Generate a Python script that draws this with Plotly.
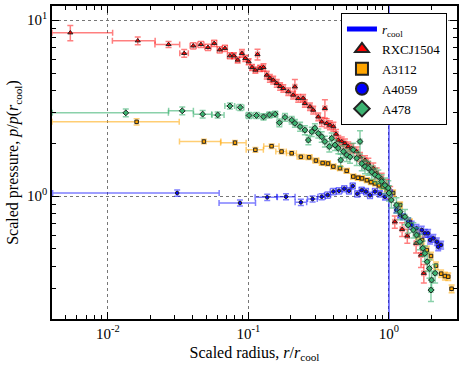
import plotly.graph_objects as go

# axis limits and cooling radius (scaled units)
x_min, x_max = 0.004, 3.05
y_min, y_max = 0.2, 12.0
r_cool = 1.0

# RXCJ1504
red_x = [0.0054, 0.0163, 0.027, 0.0349, 0.0405, 0.0459, 0.0515, 0.0571, 0.0624, 0.068,
         0.0738, 0.0788, 0.0838, 0.0899, 0.095, 0.1003, 0.106, 0.112, 0.116, 0.121,
         0.128, 0.135, 0.142, 0.150, 0.159, 0.168, 0.177, 0.192, 0.208, 0.214,
         0.226, 0.245, 0.252, 0.274, 0.289, 0.314, 0.332, 0.350, 0.360, 0.380,
         0.402, 0.420, 0.436, 0.461, 0.486, 0.513, 0.543, 0.589, 0.622, 0.675,
         0.713, 0.773, 0.817, 0.887, 0.963, 1.02, 1.10, 1.24, 1.35, 1.56,
         1.69, 1.77]
red_y = [8.47, 7.63, 7.27, 6.47, 7.14, 7.27, 7.00, 7.38, 6.78, 6.91,
         6.27, 6.27, 5.93, 6.47, 6.06, 5.80, 5.38, 5.20, 6.38, 5.32,
         5.38, 4.87, 4.67, 4.56, 4.37, 4.20, 4.09, 3.92, 3.75, 4.18,
         3.59, 3.60, 3.36, 3.22, 3.08, 2.82, 2.64, 3.15, 2.59, 2.53,
         2.48, 2.25, 2.08, 2.04, 1.99, 1.91, 1.87, 1.79, 1.67, 1.60,
         1.53, 1.44, 1.35, 1.26, 1.15, 1.05, 0.714, 0.647, 0.593, 0.539,
         0.462, 0.364]
red_xm = [26, 34, 20, 7, 5, 5, 5, 4, 4, 4,
          4, 3, 3, 3, 3, 3, 3, 3, 3, 3,
          3, 3, 3, 3, 3, 3, 3, 3, 3, 3,
          3, 3, 3, 3, 3, 3, 3, 3, 3, 3,
          3, 3, 3, 3, 3, 3, 3, 3, 3, 3,
          3, 3, 3, 3, 3, 3, 3, 3, 3, 3,
          3, 3]
red_xp = [100, 33, 20, 7, 5, 5, 5, 4, 4, 4,
          4, 3, 3, 3, 3, 3, 3, 3, 3, 3,
          3, 3, 3, 3, 3, 3, 3, 3, 3, 3,
          3, 3, 3, 3, 3, 3, 3, 3, 3, 3,
          3, 3, 3, 3, 3, 3, 3, 3, 3, 3,
          3, 3, 3, 3, 3, 3, 3, 3, 3, 3,
          3, 3]
red_ye = [10, 5, 4, 5, 4, 4, 4, 4, 4, 4,
          4, 4, 4, 5, 4, 4, 4, 4, 7, 4,
          5, 5, 5, 5, 5, 5, 5, 5, 5, 10,
          5, 5, 5, 5, 5, 5, 6, 12, 6, 6,
          6, 6, 6, 6, 6, 6, 6, 6, 6, 6,
          7, 7, 7, 7, 8, 8, 8, 9, 9, 12,
          15, 12]

# A3112
ora_x = [0.016, 0.0482, 0.0802, 0.112, 0.146, 0.172, 0.203, 0.236, 0.270, 0.302,
         0.337, 0.368, 0.402, 0.448, 0.500, 0.557, 0.601, 0.643, 0.697, 0.745,
         0.795, 0.849, 0.910, 0.968, 1.07, 1.20, 1.41, 1.61, 1.72, 1.86,
         1.99, 2.16, 2.35, 2.50, 2.64, 2.79]
ora_y = [2.64, 2.04, 2.01, 1.83, 1.92, 1.79, 1.75, 1.67, 1.66, 1.59,
         1.54, 1.53, 1.47, 1.44, 1.39, 1.29, 1.27, 1.26, 1.23, 1.20,
         1.18, 1.15, 1.13, 1.11, 1.04, 0.889, 0.712, 0.600, 0.562, 0.493,
         0.456, 0.402, 0.362, 0.351, 0.348, 0.297]
ora_xm = [75, 33, 21, 14, 12, 9, 8, 6, 5, 5,
          5, 4, 4, 4, 4, 4, 4, 4, 4, 4,
          3, 3, 3, 3, 3, 3, 3, 3, 3, 3,
          3, 3, 3, 3, 3, 3]
ora_xp = [101, 32, 20, 14, 13, 8, 8, 6, 5, 5,
          5, 4, 4, 4, 4, 4, 4, 4, 4, 4,
          3, 3, 3, 3, 3, 3, 3, 3, 3, 3,
          3, 3, 3, 3, 3, 3]
ora_ye = [4, 3, 3, 3, 3, 3, 3, 3, 3, 3,
          3, 3, 3, 3, 3, 3, 3, 3, 3, 3,
          3, 3, 3, 3, 4, 4, 4, 5, 5, 5,
          5, 5, 5, 5, 5, 5]

# A4059
blu_x = [0.0311, 0.087, 0.136, 0.185, 0.236, 0.286, 0.332, 0.366, 0.402, 0.441,
         0.481, 0.519, 0.552, 0.595, 0.639, 0.686, 0.733, 0.795, 0.863, 0.937,
         1.02, 1.13, 1.20, 1.26, 1.37, 1.45, 1.57, 1.71, 1.80, 1.90,
         1.96, 2.07, 2.19, 2.24, 2.35]
blu_y = [1.04, 0.913, 0.983, 0.991, 0.921, 0.962, 0.991, 1.013, 1.06, 1.07,
         1.10, 1.07, 1.14, 1.03, 1.08, 1.06, 1.01, 1.06, 1.03, 0.99,
         1.04, 0.833, 0.780, 0.763, 0.714, 0.684, 0.655, 0.641, 0.614, 0.614,
         0.562, 0.575, 0.550, 0.515, 0.527]
blu_xm = [87, 29, 18, 14, 9, 8, 6, 5, 5, 5,
          4, 4, 4, 4, 4, 4, 4, 4, 3, 3,
          3, 3, 3, 3, 3, 3, 3, 3, 3, 3,
          3, 3, 3, 3, 3]
blu_xp = [99, 29, 18, 16, 10, 8, 6, 5, 5, 5,
          4, 4, 4, 4, 4, 4, 4, 4, 3, 3,
          3, 3, 3, 3, 3, 3, 3, 3, 3, 3,
          3, 3, 3, 3, 3]
blu_ye = [4, 4, 4, 4, 4, 4, 4, 4, 4, 4,
          4, 4, 4, 4, 4, 4, 4, 4, 4, 4,
          4, 4, 4, 4, 5, 5, 5, 5, 5, 5,
          5, 5, 5, 5, 5]

# A478
grn_x = [0.0134, 0.0338, 0.0472, 0.0604, 0.0738, 0.0874, 0.101, 0.114, 0.128, 0.141,
         0.155, 0.166, 0.182, 0.203, 0.214, 0.233, 0.252, 0.267, 0.282, 0.297,
         0.314, 0.332, 0.350, 0.376, 0.391, 0.413, 0.436, 0.453, 0.473, 0.500,
         0.528, 0.557, 0.589, 0.622, 0.640, 0.675, 0.713, 0.753, 0.795, 0.839,
         0.887, 0.937, 0.989, 1.00, 1.04, 1.13, 1.20, 1.30, 1.37, 1.49,
         1.57, 1.66, 1.74, 1.80, 1.87, 1.94, 2.01, 1.99, 2.13]
grn_y = [2.97, 3.05, 2.92, 2.89, 3.25, 3.19, 2.87, 2.87, 2.82, 2.89,
         2.92, 2.61, 2.80, 2.70, 2.59, 2.48, 2.37, 2.08, 2.32, 2.43,
         2.27, 2.17, 2.04, 1.91, 2.13, 1.95, 1.87, 1.60, 1.79, 1.71,
         1.67, 1.83, 1.64, 2.04, 1.53, 1.47, 1.44, 1.37, 1.32, 1.29,
         1.21, 1.15, 1.11, 1.04, 0.949, 0.889, 0.814, 0.763, 0.684, 0.641,
         0.600, 0.550, 0.505, 0.472, 0.423, 0.388, 0.333, 0.292, 0.364]
grn_xm = [70, 20, 14, 9, 8, 6, 5, 5, 4, 4,
          4, 4, 4, 4, 3, 3, 3, 3, 3, 3,
          3, 3, 3, 3, 3, 3, 3, 3, 3, 3,
          3, 3, 3, 3, 3, 3, 3, 3, 3, 3,
          3, 3, 3, 3, 3, 3, 3, 3, 3, 3,
          3, 3, 3, 3, 3, 3, 3, 3, 3]
grn_xp = [101, 20, 16, 11, 8, 6, 5, 5, 4, 4,
          4, 4, 4, 4, 3, 3, 3, 3, 3, 3,
          3, 3, 3, 3, 3, 3, 3, 3, 3, 3,
          3, 3, 3, 3, 3, 3, 3, 3, 3, 3,
          3, 3, 3, 3, 3, 3, 3, 3, 3, 3,
          3, 3, 3, 3, 3, 3, 3, 3, 3]
grn_ye = [5, 5, 5, 4, 4, 4, 4, 4, 4, 4,
          4, 5, 5, 5, 5, 6, 6, 6, 6, 6,
          6, 7, 7, 7, 7, 7, 7, 8, 8, 8,
          8, 9, 9, 15, 9, 9, 9, 9, 9, 9,
          9, 10, 10, 10, 10, 10, 10, 10, 10, 10,
          10, 10, 10, 10, 12, 12, 12, 14, 12]

series = [
    ("RXCJ1504", red_x, red_y, red_xm, red_xp, red_ye, "triangle-up", "#ff0000", "rgba(255,0,0,0.5)", 4.5),
    ("A3112", ora_x, ora_y, ora_xm, ora_xp, ora_ye, "square", "#ffa500", "rgba(255,165,0,0.55)", 3.5),
    ("A4059", blu_x, blu_y, blu_xm, blu_xp, blu_ye, "circle", "#0000ff", "rgba(0,0,255,0.5)", 3.5),
    ("A478", grn_x, grn_y, grn_xm, grn_xp, grn_ye, "diamond", "#3cb371", "rgba(60,179,113,0.6)", 4.5),
]

fig = go.Figure()

fig.add_trace(go.Scatter(x=[r_cool, r_cool], y=[y_min, y_max], mode="lines",
                         line=dict(color="#0000ff", width=1),
                         name="<i>r</i><sub>cool</sub>"))

for name, xs, ys, xm, xp, ye, sym, col, ecol, ms in series:
    fig.add_trace(go.Scatter(
        x=xs, y=ys, mode="markers", name=name,
        marker=dict(symbol=sym, size=ms, color=col, line=dict(color="#222", width=1)),
        error_x=dict(type="data", symmetric=False,
                     array=[x * p / 100 for x, p in zip(xs, xp)],
                     arrayminus=[x * p / 100 for x, p in zip(xs, xm)],
                     color=ecol, thickness=1.5, width=3),
        error_y=dict(type="data", array=[y * p / 100 for y, p in zip(ys, ye)],
                     color=ecol, thickness=1.5, width=3),
    ))

serif = "Liberation Serif"

x_major = [0.01, 0.1, 1]
x_labels = ["10<sup>-2</sup>", "10<sup>-1</sup>", "10<sup>0</sup>"]
x_minor = [0.005, 0.006, 0.007, 0.008, 0.009, 0.02, 0.03, 0.04, 0.05, 0.06, 0.07,
           0.08, 0.09, 0.2, 0.3, 0.4, 0.5, 0.6, 0.7, 0.8, 0.9, 2, 3]
y_major = [1, 10]
y_labels = ["10<sup>0</sup>", "10<sup>1</sup>"]
y_minor = [0.2, 0.3, 0.4, 0.5, 0.6, 0.7, 0.8, 0.9, 2, 3, 4, 5, 6, 7, 8, 9]

axis_common = dict(type="log", showline=True, linecolor="black", linewidth=1.5,
                   mirror="ticks", ticks="inside", ticklen=7, tickcolor="black",
                   tickwidth=1, showgrid=True, gridcolor="#777", griddash="dot",
                   gridwidth=1, zeroline=False, automargin=False,
                   tickfont=dict(family=serif, size=15, color="black"))

fig.update_xaxes(range=[-2.398, 0.484], tickmode="array", tickvals=x_major, ticktext=x_labels,
                 minor=dict(tickmode="array", tickvals=x_minor, ticks="inside", ticklen=4,
                            tickcolor="black", showgrid=False),
                 title=dict(text="Scaled radius, <i>r</i>/<i>r</i><sub>cool</sub>",
                            font=dict(family=serif, size=16, color="black"), standoff=6),
                 **axis_common)
fig.update_yaxes(range=[-0.699, 1.08], tickmode="array", tickvals=y_major, ticktext=y_labels,
                 minor=dict(tickmode="array", tickvals=y_minor, ticks="inside", ticklen=4,
                            tickcolor="black", showgrid=False),
                 title=dict(text="Scaled pressure, <i>p</i>/<i>p</i>(<i>r</i><sub>cool</sub>)",
                            font=dict(family=serif, size=16, color="black"), standoff=4),
                 **axis_common)

fig.update_layout(
    width=463, height=367,
    margin=dict(l=52, r=6, t=6, b=48),
    plot_bgcolor="white", paper_bgcolor="white",
    font=dict(family=serif, size=15, color="black"),
    legend=dict(x=0.713, y=0.978, xanchor="left", yanchor="top",
                bgcolor="white", bordercolor="black", borderwidth=1.2,
                font=dict(family=serif, size=13), itemsizing="constant",
                tracegroupgap=0),
)

fig.write_html("out.html", config={"displayModeBar": False},
               post_script="document.body.style.margin='0px';")
